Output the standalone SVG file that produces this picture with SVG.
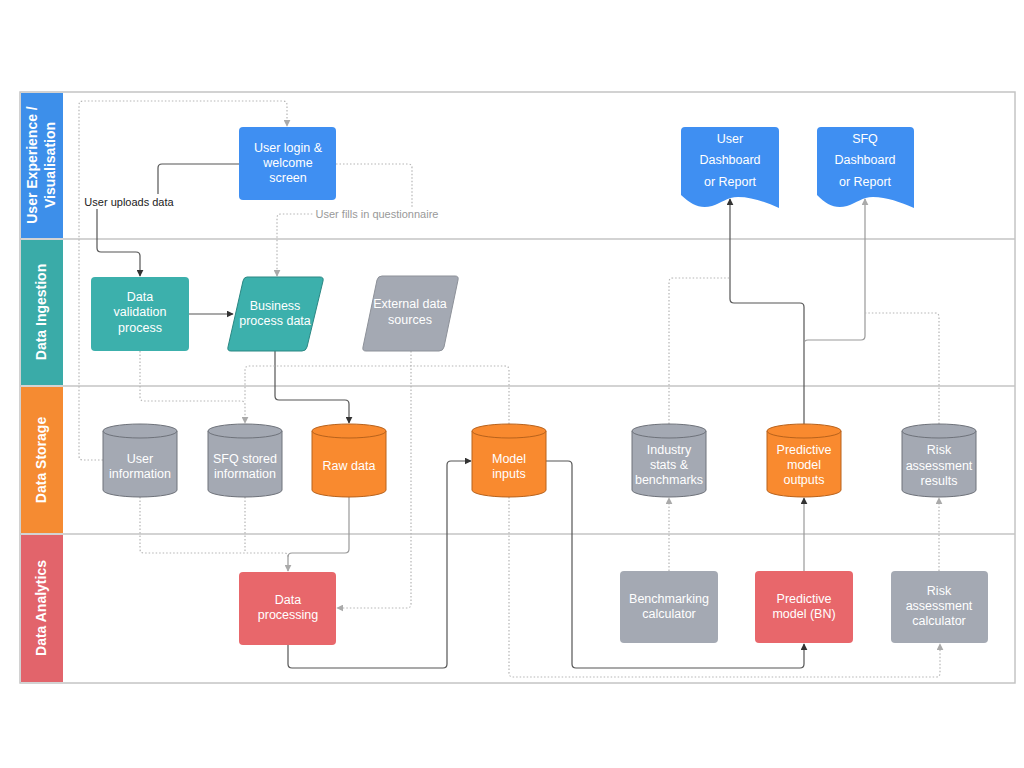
<svg xmlns="http://www.w3.org/2000/svg" width="1024" height="768" viewBox="0 0 1024 768">
<defs>
<style>
.lbl{font-family:"Liberation Sans",Arial,sans-serif;font-size:12.5px;fill:#fff;text-anchor:middle}
.hdr{font-family:"Liberation Sans",Arial,sans-serif;font-size:14px;font-weight:bold;fill:#fff;text-anchor:middle}
.note{font-family:"Liberation Sans",Arial,sans-serif;font-size:11px;text-anchor:middle}
.solid{fill:none;stroke:#555;stroke-width:1.2}
.solidg{fill:none;stroke:#999;stroke-width:1.2}
.dot{fill:none;stroke:#b5b5b5;stroke-width:1.2;stroke-dasharray:1.5 2}
.gray{fill:#a4a9b3}
.cylg{fill:#a4a9b3;stroke:#6e727a;stroke-width:1}
.cylo{fill:#f98a2f;stroke:#b8621c;stroke-width:1}
</style>
<marker id="ad" viewBox="0 0 10 10" refX="9" refY="5" markerWidth="7" markerHeight="7" orient="auto" markerUnits="userSpaceOnUse"><path d="M0,0 L10,5 L0,10 z" fill="#333"/></marker>
<marker id="ag" viewBox="0 0 10 10" refX="9" refY="5" markerWidth="7" markerHeight="7" orient="auto" markerUnits="userSpaceOnUse"><path d="M0,0 L10,5 L0,10 z" fill="#aaa"/></marker>
</defs>
<rect width="1024" height="768" fill="#fff"/>

<g id="lanes">
<rect x="20" y="92" width="995" height="591" fill="none" stroke="#c4c4c4" stroke-width="1.5"/>
<line x1="20" y1="239" x2="1015" y2="239" stroke="#c4c4c4" stroke-width="1.5"/>
<line x1="20" y1="386" x2="1015" y2="386" stroke="#c4c4c4" stroke-width="1.5"/>
<line x1="20" y1="534" x2="1015" y2="534" stroke="#c4c4c4" stroke-width="1.5"/>
<rect x="21" y="93" width="42" height="145" fill="#3d8fea"/>
<rect x="21" y="240" width="42" height="145" fill="#3aaba8"/>
<rect x="21" y="387" width="42" height="146" fill="#f58b32"/>
<rect x="21" y="535" width="42" height="147" fill="#e2646b"/>
<text class="hdr" transform="translate(37,165) rotate(-90)">User Experience /</text>
<text class="hdr" transform="translate(55,165) rotate(-90)">Visualisation</text>
<text class="hdr" transform="translate(46,312) rotate(-90)">Data Ingestion</text>
<text class="hdr" transform="translate(46,460) rotate(-90)">Data Storage</text>
<text class="hdr" transform="translate(46,608) rotate(-90)">Data Analytics</text>
</g>

<g id="connectors">
<path class="dot" d="M103,460 H83 Q79,460 79,456 V105 Q79,101 83,101 H283 Q287,101 287,105 V126" marker-end="url(#ag)"/>
<path class="solid" d="M239,164 H162 Q158,164 158,168 V202 H97 V248 Q97,252 101,252 H136 Q140,252 140,256 V276" marker-end="url(#ad)"/>
<path class="dot" d="M336,164 H408 Q412,164 412,168 V214 H281 Q277,214 277,218 V276" marker-end="url(#ag)"/>
<path class="solid" d="M189,314 H233" marker-end="url(#ad)"/>
<path class="solid" d="M275,351 V396 Q275,400 279,400 H345 Q349,400 349,404 V423" marker-end="url(#ad)"/>
<path class="dot" d="M140,351 V397 Q140,401 144,401 H241 Q245,401 245,405 V423" marker-end="url(#ag)"/>
<path class="dot" d="M509,424 V370 Q509,366 505,366 H249 Q245,366 245,370 V401"/>
<path class="dot" d="M509,497 V673 Q509,677 513,677 H936 Q940,677 940,673 V644" marker-end="url(#ag)"/>
<path class="dot" d="M140,497 V549 Q140,553 144,553 H284 Q288,553 288,557"/>
<path class="dot" d="M245,497 V553"/>
<path class="solidg" d="M349,497 V549 Q349,553 345,553 H292 Q288,553 288,557 V571" marker-end="url(#ag)"/>
<path class="dot" d="M411,351 V604 Q411,608 407,608 H337" marker-end="url(#ag)"/>
<path class="solid" d="M288,645 V664 Q288,668 292,668 H443 Q447,668 447,664 V465 Q447,461 451,461 H471" marker-end="url(#ad)"/>
<path class="solid" d="M546,461 H568 Q572,461 572,465 V664 Q572,668 576,668 H800 Q804,668 804,664 V644" marker-end="url(#ad)"/>
<path class="dot" d="M669,571 V498" marker-end="url(#ag)"/>
<path class="solidg" d="M804,571 V498" marker-end="url(#ad)"/>
<path class="dot" d="M939,571 V498" marker-end="url(#ag)"/>
<path class="solid" d="M804,424 V307 Q804,303 800,303 H734 Q730,303 730,299 V199" marker-end="url(#ad)"/>
<path class="solidg" d="M804,344 Q804,340 808,340 H861 Q865,340 865,336 V199" marker-end="url(#ag)"/>
<path class="dot" d="M669,424 V282 Q669,278 673,278 H730"/>
<path class="dot" d="M939,424 V317 Q939,313 935,313 H865"/>
</g>

<g id="label-uploads">
<rect x="83" y="194" width="94" height="15" fill="#fff"/>
<text class="note" x="129" y="206" fill="#222">User uploads data</text>
</g>
<g id="label-questionnaire">
<rect x="314" y="207" width="126" height="15" fill="#fff"/>
<text class="note" x="377" y="218" fill="#999">User fills in questionnaire</text>
</g>

<g id="n-login">
<rect x="239" y="127" width="97" height="73" rx="4" fill="#3f8ff2"/>
<text class="lbl" x="288" y="152">User login &amp;</text>
<text class="lbl" x="288" y="167">welcome</text>
<text class="lbl" x="288" y="182">screen</text>
</g>
<g id="n-userdash">
<path d="M681,131 Q681,127 685,127 H775 Q779,127 779,131 V208 C765,202 752,197 738,197 C727,197 722,203 712,206 C700,209 692,205 681,195 Z" fill="#3f8ff2"/>
<text class="lbl" x="730" y="143">User</text>
<text class="lbl" x="730" y="164">Dashboard</text>
<text class="lbl" x="730" y="186">or Report</text>
</g>
<g id="n-sfqdash">
<path d="M817,131 Q817,127 821,127 H910 Q914,127 914,131 V208 C900,202 887,197 873,197 C862,197 857,203 847,206 C835,209 827,205 817,195 Z" fill="#3f8ff2"/>
<text class="lbl" x="865" y="143">SFQ</text>
<text class="lbl" x="865" y="164">Dashboard</text>
<text class="lbl" x="865" y="186">or Report</text>
</g>

<g id="n-validation">
<rect x="91" y="277" width="98" height="74" rx="4" fill="#3cb0ac"/>
<text class="lbl" x="140" y="301">Data</text>
<text class="lbl" x="140" y="316">validation</text>
<text class="lbl" x="140" y="332">process</text>
</g>
<g id="n-business">
<path d="M247,277 H320 Q324,277 323,281 L307,347 Q306,351 302,351 H231 Q227,351 228,347 L243,281 Q244,277 247,277 Z" fill="#3cb0ac" stroke="#2b8783" stroke-width="1"/>
<text class="lbl" x="275" y="310">Business</text>
<text class="lbl" x="275" y="325">process data</text>
</g>
<g id="n-external">
<path d="M382,276 H455 Q459,276 458,280 L444,347 Q443,351 439,351 H366 Q362,351 363,347 L377,280 Q378,276 382,276 Z" fill="#a4a9b3" stroke="#8d9199" stroke-width="1"/>
<text class="lbl" x="410" y="308">External data</text>
<text class="lbl" x="410" y="324">sources</text>
</g>

<g id="n-userinfo">
<path class="cylg" d="M103,431 V490 A37,7 0 0 0 177,490 V431"/>
<ellipse class="cylg" cx="140" cy="431" rx="37" ry="7"/>
<text class="lbl" x="140" y="463">User</text>
<text class="lbl" x="140" y="478">information</text>
</g>
<g id="n-sfqstored">
<path class="cylg" d="M208,431 V490 A37,7 0 0 0 282,490 V431"/>
<ellipse class="cylg" cx="245" cy="431" rx="37" ry="7"/>
<text class="lbl" x="245" y="463">SFQ stored</text>
<text class="lbl" x="245" y="478">information</text>
</g>
<g id="n-raw">
<path class="cylo" d="M312,431 V490 A37,7 0 0 0 386,490 V431"/>
<ellipse class="cylo" cx="349" cy="431" rx="37" ry="7"/>
<text class="lbl" x="349" y="470">Raw data</text>
</g>
<g id="n-modelinputs">
<path class="cylo" d="M472,431 V490 A37,7 0 0 0 546,490 V431"/>
<ellipse class="cylo" cx="509" cy="431" rx="37" ry="7"/>
<text class="lbl" x="509" y="463">Model</text>
<text class="lbl" x="509" y="478">inputs</text>
</g>
<g id="n-industry">
<path class="cylg" d="M632,431 V490 A37,7 0 0 0 706,490 V431"/>
<ellipse class="cylg" cx="669" cy="431" rx="37" ry="7"/>
<text class="lbl" x="669" y="454">Industry</text>
<text class="lbl" x="669" y="469">stats &amp;</text>
<text class="lbl" x="669" y="484">benchmarks</text>
</g>
<g id="n-outputs">
<path class="cylo" d="M767,431 V490 A37,7 0 0 0 841,490 V431"/>
<ellipse class="cylo" cx="804" cy="431" rx="37" ry="7"/>
<text class="lbl" x="804" y="454">Predictive</text>
<text class="lbl" x="804" y="469">model</text>
<text class="lbl" x="804" y="484">outputs</text>
</g>
<g id="n-riskresults">
<path class="cylg" d="M902,431 V490 A37,7 0 0 0 976,490 V431"/>
<ellipse class="cylg" cx="939" cy="431" rx="37" ry="7"/>
<text class="lbl" x="939" y="454">Risk</text>
<text class="lbl" x="939" y="470">assessment</text>
<text class="lbl" x="939" y="485">results</text>
</g>

<g id="n-processing">
<rect x="239" y="572" width="97" height="73" rx="4" fill="#e8676b"/>
<text class="lbl" x="288" y="604">Data</text>
<text class="lbl" x="288" y="619">processing</text>
</g>
<g id="n-benchcalc">
<rect x="620" y="571" width="98" height="72" rx="4" class="gray"/>
<text class="lbl" x="669" y="603">Benchmarking</text>
<text class="lbl" x="669" y="618">calculator</text>
</g>
<g id="n-predmodel">
<rect x="755" y="571" width="98" height="72" rx="4" fill="#e8676b"/>
<text class="lbl" x="804" y="603">Predictive</text>
<text class="lbl" x="804" y="618">model (BN)</text>
</g>
<g id="n-riskcalc">
<rect x="891" y="571" width="97" height="72" rx="4" class="gray"/>
<text class="lbl" x="939" y="595">Risk</text>
<text class="lbl" x="939" y="610">assessment</text>
<text class="lbl" x="939" y="625">calculator</text>
</g>
</svg>
